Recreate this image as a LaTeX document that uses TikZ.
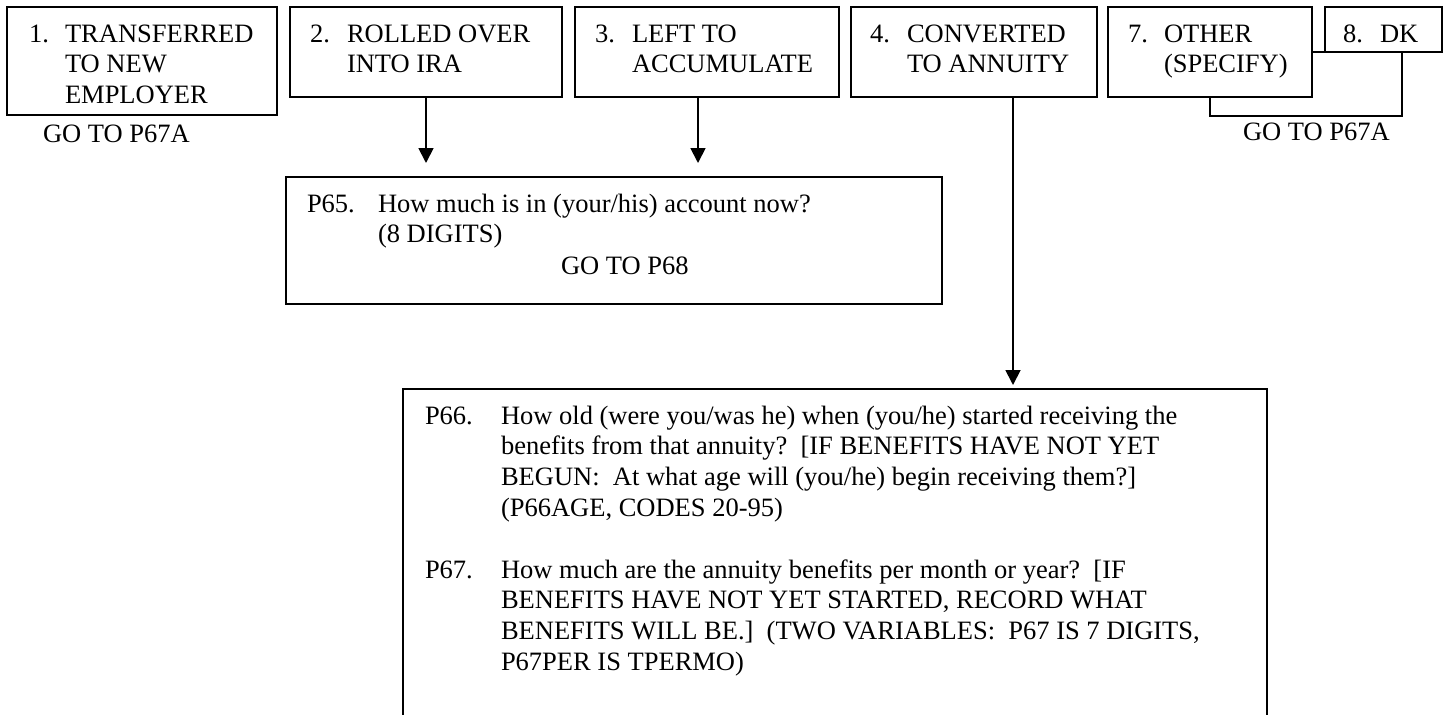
\documentclass[tikz,border=0pt]{standalone}
\usepackage{fontspec}
\setmainfont{Liberation Serif}
\usetikzlibrary{arrows.meta}
\newcommand{\mlines}[1]{\begin{tabular}[t]{@{}l@{}}#1\end{tabular}}
\begin{document}
\begin{tikzpicture}[x=0.5pt,y=-0.5pt,line width=0.9pt,
  box/.style={draw, inner sep=0pt, outer sep=0pt, anchor=north west},
  txt/.style={inner sep=0pt, outer sep=0pt, anchor=base west, font=\fontsize{13.25pt}{15.4pt}\selectfont},
  arr/.style={-{Triangle[width=7.5pt,length=7.5pt]}}]
\useasboundingbox (0,0) rectangle (1452,714);
% top answer boxes
\node[box, minimum width=135pt, minimum height=54pt] (b1) at (7,7) {};
\node[box, minimum width=136pt, minimum height=45pt] (b2) at (290,7) {};
\node[box, minimum width=132pt, minimum height=45pt] (b3) at (575,7) {};
\node[box, minimum width=123pt, minimum height=45pt] (b4) at (851,7) {};
\node[box, minimum width=102pt, minimum height=45pt] (b7) at (1108,7) {};
\node[box, minimum width=58.5pt, minimum height=22.5pt] (b8) at (1325,7) {};
% texts of top boxes
\node[txt] (n1) at (29,42) {1.};
\node[txt] (l1) at (65,42) {\mlines{TRANSFERRED\\TO NEW\\EMPLOYER}};
\node[txt] (n2) at (310,42) {2.};
\node[txt] (l2) at (347,42) {\mlines{ROLLED OVER\\INTO IRA}};
\node[txt] (n3) at (595,42) {3.};
\node[txt] (l3) at (632,42) {\mlines{LEFT TO\\ACCUMULATE}};
\node[txt] (n4) at (870,42) {4.};
\node[txt] (l4) at (907,42) {\mlines{CONVERTED\\TO ANNUITY}};
\node[txt] (n7) at (1128,42) {7.};
\node[txt] (l7) at (1164,42) {\mlines{OTHER\\(SPECIFY)}};
\node[txt] (n8) at (1343,42) {8.};
\node[txt] (l8) at (1380,42) {DK};
% skip labels
\node[txt] (g1) at (43,142) {GO TO P67A};
\node[txt] (g7) at (1243,140) {GO TO P67A};
% bracket joining 7 and 8
\draw (b7.east |- b8.south west) -- (b8.south west);
\coordinate (br) at (1402,52);
\draw (b7.south) -- ++(0,19) -| (br);
% question boxes
\node[box, minimum width=328pt, minimum height=63.5pt] (p65) at (286,177) {};
\node[inner sep=0pt, outer sep=0pt, anchor=north west, minimum width=432pt, minimum height=170pt] (p66) at (403,389) {};
\draw (p66.south west) -- (p66.north west) -- (p66.north east) -- (p66.south east);
% P65 text
\node[txt] (q65) at (307,212) {P65.};
\node[txt] (t65) at (378,212) {\mlines{How much is in (your/his) account now?\\(8 DIGITS)}};
\node[txt] (g65) at (561,274) {GO TO P68};
% P66 / P67 text
\node[txt] (q66) at (425,424) {P66.};
\node[txt] (t66) at (501,424) {\mlines{How old (were you/was he) when (you/he) started receiving the\\
benefits from that annuity?\ \ [IF BENEFITS HAVE NOT YET\\
BEGUN:\ \ At what age will (you/he) begin receiving them?]\\
(P66AGE, CODES 20-95)}};
\node[txt] (q67) at (425,578) {P67.};
\node[txt] (t67) at (501,578) {\mlines{How much are the annuity benefits per month or year?\ \ [IF\\
BENEFITS HAVE NOT YET STARTED, RECORD WHAT\\
BENEFITS WILL BE.]\ \ (TWO VARIABLES:\ \ P67 IS 7 DIGITS,\\
P67PER IS TPERMO)}};
% arrows
\draw[arr, shorten >=7pt] (b2.south) -- (b2.south |- p65.north);
\draw[arr, shorten >=7pt] ([xshift=-4.5pt]b3.south) -- ([xshift=-4.5pt]b3.south |- p65.north);
\draw[arr, shorten >=2pt] ([xshift=19.5pt]b4.south) -- ([xshift=19.5pt]b4.south |- p66.north);
\end{tikzpicture}
\end{document}
